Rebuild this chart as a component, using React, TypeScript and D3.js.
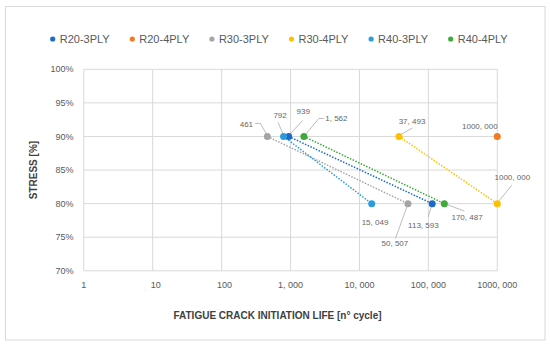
import React from "react";
import * as d3 from "d3";

const seriesNames = ["R20-3PLY", "R20-4PLY", "R30-3PLY", "R30-4PLY", "R40-3PLY", "R40-4PLY"];
const seriesColors = ["#1b6ac9", "#f47a22", "#a5a5a5", "#ffc000", "#2e9bda", "#3daa3a"];
const r20_3ply = [{ life: 939, stress: 0.9 }, { life: 113593, stress: 0.8 }];
const r20_4ply = [{ life: 1000000, stress: 0.9 }];
const r30_3ply = [{ life: 461, stress: 0.9 }, { life: 50507, stress: 0.8 }];
const r30_4ply = [{ life: 37493, stress: 0.9 }, { life: 1000000, stress: 0.8 }];
const r40_3ply = [{ life: 792, stress: 0.9 }, { life: 15049, stress: 0.8 }];
const r40_4ply = [{ life: 1562, stress: 0.9 }, { life: 170487, stress: 0.8 }];
const seriesData = [r20_3ply, r20_4ply, r30_3ply, r30_4ply, r40_3ply, r40_4ply];
const xTicks = [1, 10, 100, 1000, 10000, 100000, 1000000];
const yTicks = [0.7, 0.75, 0.8, 0.85, 0.9, 0.95, 1.0];

// label placement (offsets from the point), leader line offsets
const labelLayout: { s: number; i: number; dx: number; dy: number; leader?: number[][] }[] = [
  { s: 2, i: 0, dx: -21, dy: -12, leader: [[-12, -13], [-7, -13], [-1, -2.5]] },
  { s: 4, i: 0, dx: -3.5, dy: -21.5, leader: [[-5.5, -14], [-0.5, -2.5]] },
  { s: 0, i: 0, dx: 14.5, dy: -25.5, leader: [[14, -16], [1.5, -2.5]] },
  { s: 5, i: 0, dx: 32.5, dy: -18, leader: [[20, -18], [15, -18], [2, -2.5]] },
  { s: 3, i: 0, dx: 13, dy: -15.5, leader: [[13.5, -8.5], [2, -2]] },
  { s: 1, i: 0, dx: -17.5, dy: -10.5 },
  { s: 3, i: 1, dx: 15, dy: -26.5, leader: [[14.5, -18.5], [2, -3]] },
  { s: 4, i: 1, dx: 3.3, dy: 19 },
  { s: 2, i: 1, dx: -13, dy: 40, leader: [[-12.5, 35], [-1, 3]] },
  { s: 0, i: 1, dx: -8.8, dy: 21.5, leader: [[-4, 13], [-0.8, 3]] },
  { s: 5, i: 1, dx: 22.7, dy: 14, leader: [[20, 7.5], [3, 1]] },
];

const fmt = (n: number) => {
  if (n < 1000) return String(n);
  const hi = Math.floor(n / 1000);
  const lo = n % 1000;
  return `${hi}, ${String(lo).padStart(3, "0")}`;
};

const FONT = "'Liberation Sans', Arial, sans-serif";

export default function App() {
  const x = d3.scaleLog().domain([1, 1000000]).range([83.8, 497.3]);
  const y = d3.scaleLinear().domain([0.7, 1.0]).range([270.8, 69.3]);
  const line = d3
    .line<{ life: number; stress: number }>()
    .x((d) => x(d.life))
    .y((d) => y(d.stress));

  return (
    <svg
      width={550}
      height={347}
      style={{ position: "absolute", left: 0, top: 0, background: "#fff" }}
      fontFamily={FONT}
    >
      <rect x={5.5} y={6.5} width={539.5} height={333.5} fill="#fff" stroke="#d9d9d9" strokeWidth={1} />

      {/* gridlines */}
      {yTicks.map((t) => (
        <line key={"gy" + t} x1={x(1)} x2={x(1000000)} y1={y(t)} y2={y(t)} stroke="#d9d9d9" strokeWidth={1} />
      ))}
      {xTicks.map((t) => (
        <line key={"gx" + t} x1={x(t)} x2={x(t)} y1={y(0.7)} y2={y(1.0)} stroke="#d9d9d9" strokeWidth={1} />
      ))}

      {/* y tick labels */}
      {yTicks.map((t) => (
        <text key={"yl" + t} x={73.5} y={y(t)} dy="0.35em" textAnchor="end" fontSize={9} fill="#595959">
          {d3.format(".0%")(t)}
        </text>
      ))}
      {/* x tick labels */}
      {xTicks.map((t) => (
        <text key={"xl" + t} x={x(t) + (t === 10 || t === 100 ? 3 : 0)} y={285} dy="0.35em" textAnchor="middle" fontSize={9} fill="#595959">
          {fmt(t)}
        </text>
      ))}
      <text x={145} y={290} fontSize={5} fill="#cccccc" textAnchor="middle">,</text>

      {/* axis titles */}
      <text x={277.5} y={315} dy="0.35em" textAnchor="middle" fontSize={10} fontWeight="bold" fill="#404040">
        FATIGUE CRACK INITIATION LIFE [n° cycle]
      </text>
      <text
        transform={`translate(33, ${(y(0.7) + y(1.0)) / 2}) rotate(-90)`}
        dy="0.35em"
        textAnchor="middle"
        fontSize={10}
        fontWeight="bold"
        fill="#404040"
      >
        STRESS [%]
      </text>

      {/* series lines */}
      {seriesData.map((data, s) =>
        data.length > 1 ? (
          <path
            key={"ln" + s}
            d={line(data) || ""}
            fill="none"
            stroke={seriesColors[s]}
            strokeWidth={1.5}
            strokeDasharray="1.5 1.5"
          />
        ) : null
      )}

      {/* leader lines */}
      {labelLayout.map((l, k) => {
        if (!l.leader) return null;
        const p = seriesData[l.s][l.i];
        const cx = x(p.life);
        const cy = y(p.stress);
        const pts = l.leader.map(([dx, dy]) => [cx + dx, cy + dy] as [number, number]);
        return <path key={"ld" + k} d={d3.line()(pts) || ""} fill="none" stroke="#a6a6a6" strokeWidth={0.75} />;
      })}

      {/* points */}
      {seriesData.map((data, s) =>
        data.map((d, i) => (
          <circle key={"pt" + s + "-" + i} cx={x(d.life)} cy={y(d.stress)} r={3.5} fill={seriesColors[s]} />
        ))
      )}

      {/* data labels */}
      {labelLayout.map((l, k) => {
        const p = seriesData[l.s][l.i];
        return (
          <text
            key={"lb" + k}
            x={x(p.life) + l.dx}
            y={y(p.stress) + l.dy}
            dy="0.35em"
            textAnchor="middle"
            fontSize={8}
            fill="#666666"
          >
            {fmt(p.life)}
          </text>
        );
      })}

      {/* legend */}
      {seriesNames.map((name, s) => (
        <g key={"lg" + s} transform={`translate(${52.7 + s * 79.6}, 39)`}>
          <circle cx={0} cy={0} r={2.6} fill={seriesColors[s]} />
          <text x={7} y={0} dy="0.35em" fontSize={11} fill="#595959">
            {name}
          </text>
        </g>
      ))}
    </svg>
  );
}
